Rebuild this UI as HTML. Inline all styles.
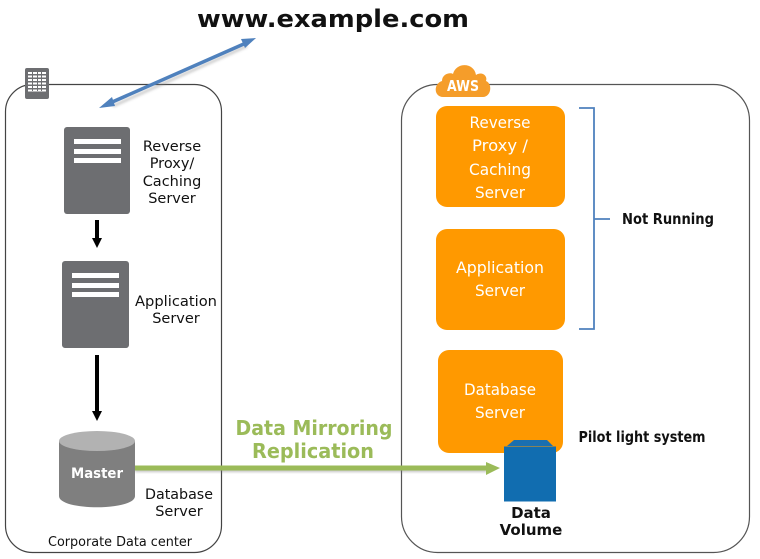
<!DOCTYPE html>
<html><head><meta charset="utf-8"><style>
html,body{margin:0;padding:0;background:#fff;width:760px;height:559px;overflow:hidden}
svg{display:block}
text{font-family:"DejaVu Sans","Liberation Sans",sans-serif;text-anchor:middle}
.k{font-size:14.500px;fill:#111}
.w{font-size:16px;fill:#fff}
.b{font-size:15px;font-weight:bold;fill:#111}
.g{font-size:20px;font-weight:bold;fill:#9bbb59}
</style></head><body>
<svg width="760" height="559" viewBox="0 0 760 559" xmlns="http://www.w3.org/2000/svg">
<defs><filter id="s" x="-10%" y="-50%" width="120%" height="200%"><feGaussianBlur stdDeviation="1.2"/></filter></defs>
<text x="333" y="27" font-size="24" font-weight="bold" fill="#111" textLength="272" lengthAdjust="spacingAndGlyphs">www.example.com</text>

<rect x="5.500" y="84.500" width="216" height="468" rx="27" fill="none" stroke="#444" stroke-width="1.200"/>
<rect x="401.500" y="84.500" width="348" height="468" rx="36" fill="none" stroke="#555" stroke-width="1.200"/>

<!-- building icon -->
<rect x="25" y="68" width="24" height="31" rx="2" fill="#6d6e71"/>
<g fill="#fff"><rect x="28" y="72" width="18" height="2"/><rect x="28" y="75.500" width="18" height="2"/><rect x="28" y="79" width="18" height="2"/><rect x="28" y="82.500" width="18" height="2"/><rect x="28" y="86" width="18" height="2"/><rect x="28" y="89.500" width="18" height="2"/></g>
<g fill="#6d6e71"><rect x="32" y="71" width="1" height="20"/><rect x="37" y="71" width="1" height="20"/><rect x="41" y="71" width="1" height="20"/></g>

<!-- blue arrow -->
<line x1="112" y1="104" x2="246" y2="44" stroke="#888" stroke-width="3" opacity=".4" filter="url(#s)" transform="translate(1,2)"/>
<line x1="110" y1="103" x2="246" y2="43" stroke="#4f81bd" stroke-width="3.500"/>
<polygon points="99,108 112,97 115,106" fill="#4f81bd"/>
<polygon points="256,38 241,39 245,48" fill="#4f81bd"/>

<!-- servers -->
<rect x="64" y="127" width="66" height="87" rx="3" fill="#6d6e71"/>
<g fill="#fff"><rect x="74" y="139" width="47" height="5"/><rect x="74" y="149" width="47" height="5"/><rect x="74" y="158" width="47" height="5"/></g>
<rect x="62" y="261" width="67" height="87" rx="3" fill="#6d6e71"/>
<g fill="#fff"><rect x="72" y="273" width="47" height="5"/><rect x="72" y="283" width="47" height="5"/><rect x="72" y="292" width="47" height="5"/></g>

<text class="k" x="172" y="151">Reverse</text>
<text class="k" x="172" y="168">Proxy/</text>
<text class="k" x="172" y="186">Caching</text>
<text class="k" x="172" y="203">Server</text>
<text class="k" x="176" y="306" textLength="82" lengthAdjust="spacingAndGlyphs">Application</text>
<text class="k" x="176" y="323">Server</text>

<!-- black arrows -->
<rect x="95" y="220" width="4" height="19" fill="#000"/>
<polygon points="92,238 102,238 97,248" fill="#000"/>
<rect x="95" y="355" width="4" height="58" fill="#000"/>
<polygon points="92,411 102,411 97,421" fill="#000"/>

<!-- cylinder -->
<path d="M59 441 V496 C59 511 135 511 135 496 V441 Z" fill="#7f7f7f"/>
<ellipse cx="97" cy="441" rx="38" ry="10" fill="#b2b2b2"/>
<text x="97" y="478" font-size="14.500" font-weight="bold" fill="#fff" textLength="52" lengthAdjust="spacingAndGlyphs">Master</text>
<text class="k" x="179" y="499" textLength="68" lengthAdjust="spacingAndGlyphs">Database</text>
<text class="k" x="179" y="516">Server</text>
<text x="120" y="546" font-size="13" fill="#111" textLength="144" lengthAdjust="spacingAndGlyphs">Corporate Data center</text>

<!-- green arrow -->
<g filter="url(#s)" opacity=".45" transform="translate(0,2)"><rect x="135" y="466" width="352" height="4" fill="#777"/></g>
<rect x="135" y="465.500" width="352" height="5" fill="#9bbb59"/>
<polygon points="486,462 486,475 500,468" fill="#9bbb59"/>
<text class="g" x="314" y="435" textLength="157" lengthAdjust="spacingAndGlyphs">Data Mirroring</text>
<text class="g" x="313" y="458" textLength="122" lengthAdjust="spacingAndGlyphs">Replication</text>

<!-- AWS cloud -->
<path d="M443 97 C434 97 433 84 442 81 C442 74 450 72 453 74 C456 62 474 62 476 75 C482 71 488 76 486 81 C493 84 491 97 483 97 Z" fill="#f59d2a"/>
<text x="463" y="91" font-size="15" font-weight="bold" fill="#fff" textLength="32" lengthAdjust="spacingAndGlyphs">AWS</text>

<!-- orange boxes -->
<rect x="436" y="106" width="129" height="101" rx="11" fill="#ff9900"/>
<rect x="436" y="229" width="129" height="101" rx="11" fill="#ff9900"/>
<rect x="438" y="350" width="125" height="103" rx="11" fill="#ff9900"/>
<text class="w" x="500" y="128" textLength="61" lengthAdjust="spacingAndGlyphs">Reverse</text>
<text class="w" x="500" y="151" textLength="56" lengthAdjust="spacingAndGlyphs">Proxy /</text>
<text class="w" x="500" y="175" textLength="62" lengthAdjust="spacingAndGlyphs">Caching</text>
<text class="w" x="500" y="198" textLength="50" lengthAdjust="spacingAndGlyphs">Server</text>
<text class="w" x="500" y="273" textLength="88" lengthAdjust="spacingAndGlyphs">Application</text>
<text class="w" x="500" y="296" textLength="50" lengthAdjust="spacingAndGlyphs">Server</text>
<text class="w" x="500" y="395" textLength="72" lengthAdjust="spacingAndGlyphs">Database</text>
<text class="w" x="500" y="418" textLength="50" lengthAdjust="spacingAndGlyphs">Server</text>

<!-- bracket -->
<path d="M579 108 H594 V329 H579 M594 219 H610" fill="none" stroke="#4f81bd" stroke-width="1.800"/>
<text class="b" x="668" y="224" textLength="92" lengthAdjust="spacingAndGlyphs">Not Running</text>
<text class="b" x="642" y="442" textLength="127" lengthAdjust="spacingAndGlyphs">Pilot light system</text>

<!-- data volume -->
<polygon points="507,446 514,440 547,440 553,446" fill="#1a6fb0"/>
<rect x="504" y="446.500" width="52" height="55" fill="#116db0"/>
<text class="b" x="531" y="518">Data</text>
<text class="b" x="531" y="535">Volume</text>
</svg>
</body></html>
